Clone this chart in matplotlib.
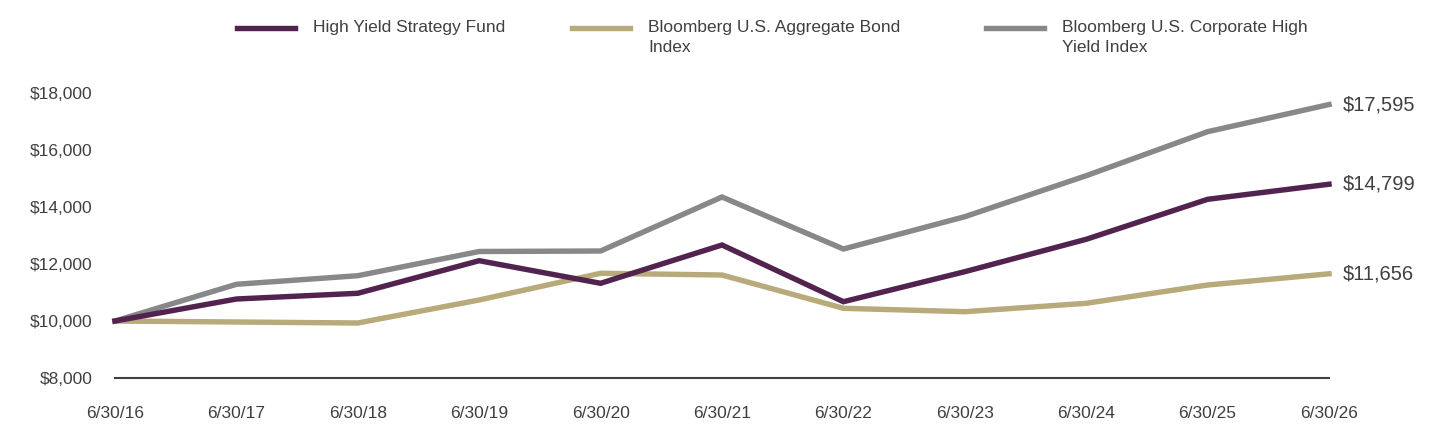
import matplotlib
matplotlib.use("Agg")
import matplotlib.pyplot as plt
from matplotlib.lines import Line2D

plt.rcParams['font.family'] = ['Liberation Sans Narrow', 'Liberation Sans', 'DejaVu Sans']

# data
dates = ["6/30/16", "6/30/17", "6/30/18", "6/30/19", "6/30/20", "6/30/21",
         "6/30/22", "6/30/23", "6/30/24", "6/30/25", "6/30/26"]
fund = [10000, 10772, 10972, 12116, 11323, 12667, 10677, 11730, 12867, 14270, 14799]
agg = [10000, 9965, 9930, 10737, 11674, 11614, 10446, 10326, 10621, 11263, 11656]
corp_hy = [10000, 11288, 11589, 12439, 12456, 14351, 12526, 13660, 15098, 16642, 17595]

names = ["High Yield Strategy Fund", "Bloomberg U.S. Aggregate Bond\nIndex",
         "Bloomberg U.S. Corporate High\nYield Index"]
colors = ["#52234E", "#B8AA7A", "#88888B"]
series = [fund, agg, corp_hy]

fig = plt.figure(figsize=(14.4, 4.44), dpi=100)
ax = fig.add_axes([115/1440, 66/444, (1329-115)/1440, (378-93)/444])

x = list(range(len(dates)))
# draw order: gray behind, then tan, purple on top
for i in [2, 1, 0]:
    ax.plot(x, series[i], color=colors[i], lw=3.9, clip_on=False,
            solid_joinstyle="miter", zorder=3 + (2 - i))
    ax.text(x[-1] + 0.11, series[i][-1], "${:,}".format(series[i][-1]),
            fontsize=14.5, color="#404040", va="center", ha="left")

ax.set_xlim(0, 10)
ax.set_ylim(8000, 18000)
ax.set_xticks(x)
ax.set_xticklabels(dates)
ax.set_yticks(range(8000, 18001, 2000))
ax.set_yticklabels(["${:,}".format(v) for v in range(8000, 18001, 2000)])
ax.tick_params(length=0, labelsize=12.5, colors="#404040")
ax.tick_params(axis="x", pad=20)
ax.tick_params(axis="y", pad=16)
for s in ["top", "right", "left"]:
    ax.spines[s].set_visible(False)
ax.spines["bottom"].set_color("#404040")
ax.spines["bottom"].set_linewidth(1.5)

# legend drawn by hand to match the wrapped entries
leg_x = [237, 572, 986]
for i in range(3):
    y0 = 1 - 28/444
    fig.add_artist(Line2D([leg_x[i]/1440, (leg_x[i] + 58)/1440], [y0, y0],
                          color=colors[i], lw=3.9, transform=fig.transFigure))
    fig.text((leg_x[i] + 76)/1440, 1 - 20/444, names[i], fontsize=12.5,
             color="#404040", va="top", ha="left", linespacing=1.45)

fig.savefig("out.png", dpi=100)
